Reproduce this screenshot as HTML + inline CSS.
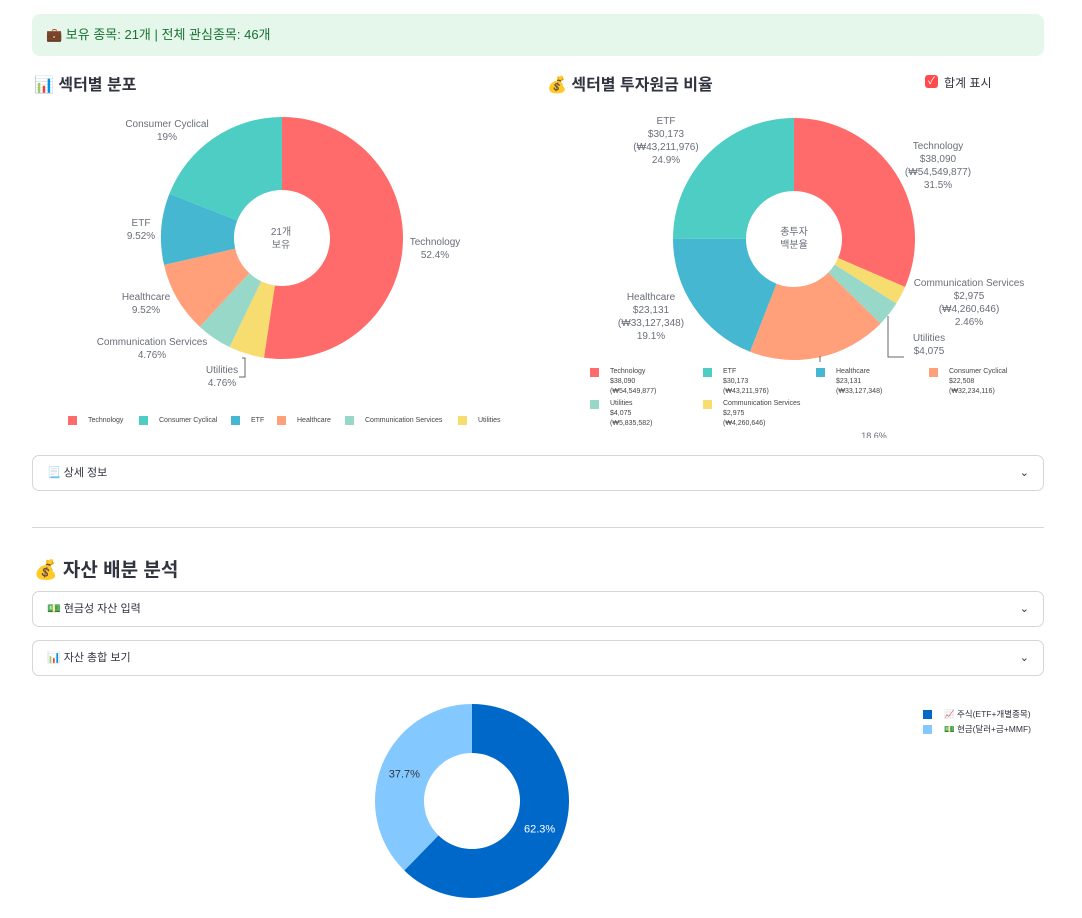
<!DOCTYPE html>
<html><head><meta charset="utf-8">
<style>
body{margin:0;width:1082px;height:918px;background:#fff;position:relative;overflow:hidden;font-family:"Liberation Sans","Noto Sans CJK KR",sans-serif;color:#31333f}
.abs{position:absolute}
.banner{left:32px;top:14px;width:1012px;height:42px;background:#e5f7ea;border-radius:8px;color:#177233;font-size:13px;line-height:42px;box-sizing:border-box;padding-left:14px}
.h3{font-weight:bold;font-size:16px}
.exp{left:32px;width:1012px;height:36px;border:1px solid #d6d6d9;border-radius:7px;box-sizing:border-box;font-size:11px;line-height:34px;padding-left:14px}
.exp .chev{position:absolute;right:14px;top:0;font-size:11px}
.lab{position:absolute;font-size:10px;color:#6b6e7a;text-align:center;line-height:13px;white-space:nowrap;transform:translateX(-50%)}
.leg{position:absolute;font-size:7px;color:#444;line-height:11px;white-space:nowrap}
.sw{position:absolute;width:9px;height:9px}
</style></head><body>
<div class="abs banner">💼 보유 종목: 21개 | 전체 관심종목: 46개</div>
<div class="abs h3" style="left:34px;top:71px">📊 섹터별 분포</div>
<div class="abs h3" style="left:547px;top:71px">💰 섹터별 투자원금 비율</div>
<div class="abs" style="left:925px;top:75px;width:13px;height:13px;background:#ff4b4b;border-radius:3px;color:#fff;font-size:10px;line-height:13px;text-align:center">✓</div>
<div class="abs" style="left:944px;top:74px;font-size:12px">합계 표시</div>

<svg id="chart" class="abs" style="left:0;top:0" width="1082" height="918"></svg>

<!-- left labels -->
<div class="lab" style="left:167px;top:118px">Consumer Cyclical<br>19%</div>
<div class="lab" style="left:141px;top:217px">ETF<br>9.52%</div>
<div class="lab" style="left:146px;top:291px">Healthcare<br>9.52%</div>
<div class="lab" style="left:152px;top:336px">Communication Services<br>4.76%</div>
<div class="lab" style="left:222px;top:364px">Utilities<br>4.76%</div>
<div class="lab" style="left:435px;top:236px">Technology<br>52.4%</div>
<div class="lab" style="left:281px;top:226px">21개<br>보유</div>
<!-- right labels -->
<div class="lab" style="left:666px;top:115px">ETF<br>$30,173<br>(₩43,211,976)<br>24.9%</div>
<div class="lab" style="left:938px;top:140px">Technology<br>$38,090<br>(₩54,549,877)<br>31.5%</div>
<div class="lab" style="left:969px;top:277px">Communication Services<br>$2,975<br>(₩4,260,646)<br>2.46%</div>
<div class="lab" style="left:929px;top:332px;height:26px;overflow:hidden">Utilities<br>$4,075</div>
<div class="lab" style="left:651px;top:291px">Healthcare<br>$23,131<br>(₩33,127,348)<br>19.1%</div>
<div class="lab" style="left:794px;top:226px">총투자<br>백분율</div>
<div class="lab" style="left:874px;top:430px;height:8px;overflow:hidden;font-size:9px">18.6%</div>
<div id="legends"></div>

<div class="abs exp" style="top:455px">📃 상세 정보<span class="chev">⌄</span></div>
<div class="abs" style="left:32px;top:527px;width:1012px;height:1px;background:#d6d6d9"></div>
<div class="abs" style="left:34px;top:555px;font-weight:bold;font-size:19px">💰 자산 배분 분석</div>
<div class="abs exp" style="top:591px">💵 현금성 자산 입력<span class="chev">⌄</span></div>
<div class="abs exp" style="top:640px">📊 자산 총합 보기<span class="chev">⌄</span></div>
<div class="abs" style="left:923px;top:710px;width:9px;height:9px;background:#0068c9"></div>
<div class="abs" style="left:944px;top:708px;font-size:8.5px">📈 주식(ETF+개별종목)</div>
<div class="abs" style="left:923px;top:725px;width:9px;height:9px;background:#83c9ff"></div>
<div class="abs" style="left:944px;top:723px;font-size:8.5px">💵 현금(달러+금+MMF)</div>

<script>
const leftCats=["Technology","Utilities","Communication Services","Healthcare","ETF","Consumer Cyclical"];
const leftVals=[11,1,1,2,2,4];
const leftColors=["#ff6b6b","#f7dc6f","#98d8c8","#ffa07a","#45b7d1","#4ecdc4"];
const rightCats=["Technology","Communication Services","Utilities","Consumer Cyclical","Healthcare","ETF"];
const rightVals=[38090,2975,4075,22508,23131,30173];
const rightColors=["#ff6b6b","#f7dc6f","#98d8c8","#ffa07a","#45b7d1","#4ecdc4"];
const assetCats=["주식","현금"];
const assetVals=[62.3,37.7];
const assetColors=["#0068c9","#83c9ff"];
const leftLegend=["Technology","Consumer Cyclical","ETF","Healthcare","Communication Services","Utilities"];
const leftLegendColors=["#ff6b6b","#4ecdc4","#45b7d1","#ffa07a","#98d8c8","#f7dc6f"];
const rightLegend=["Technology","ETF","Healthcare","Consumer Cyclical","Utilities","Communication Services"];
const rightLegendUsd=["$38,090","$30,173","$23,131","$22,508","$4,075","$2,975"];
const rightLegendKrw=["(₩54,549,877)","(₩43,211,976)","(₩33,127,348)","(₩32,234,116)","(₩5,835,582)","(₩4,260,646)"];
const rightLegendColors=["#ff6b6b","#4ecdc4","#45b7d1","#ffa07a","#98d8c8","#f7dc6f"];

const NS="http://www.w3.org/2000/svg";
const svg=document.getElementById('chart');
function pt(cx,cy,r,a){return [cx+r*Math.sin(a),cy-r*Math.cos(a)];}
function donut(cx,cy,ro,ri,vals,colors,name){
  const tot=vals.reduce((a,b)=>a+b,0);let a0=0;const mids=[];
  vals.forEach((v,i)=>{
    const a1=a0+v/tot*2*Math.PI;const lg=(a1-a0)>Math.PI?1:0;
    const p1=pt(cx,cy,ro,a0),p2=pt(cx,cy,ro,a1),p3=pt(cx,cy,ri,a1),p4=pt(cx,cy,ri,a0);
    const p=document.createElementNS(NS,'path');
    p.setAttribute('d',`M${p1}A${ro},${ro} 0 ${lg} 1 ${p2}L${p3}A${ri},${ri} 0 ${lg} 0 ${p4}Z`);
    p.setAttribute('fill',colors[i]);
    
    
    svg.appendChild(p);mids.push((a0+a1)/2);a0=a1;
  });
  return mids;
}
donut(282,238,121,48,leftVals,leftColors,'sector-count');
donut(794,239,121,48,rightVals,rightColors,'sector-investment');
const am=donut(472,801,97,48,assetVals,assetColors,'asset');
assetVals.forEach((v,i)=>{
  const [x,y]=pt(472,801,73,am[i]);
  const t=document.createElementNS(NS,'text');
  t.setAttribute('x',x);t.setAttribute('y',y+4);t.setAttribute('text-anchor','middle');
  t.setAttribute('font-size','11');t.setAttribute('fill',i==0?'#fff':'#31333f');
  t.textContent=v+'%';
  
  
  svg.appendChild(t);
});
// leader lines
[[246,367,240,367,240,357]].forEach(l=>{});
function line(d){const p=document.createElementNS(NS,'path');p.setAttribute('d',d);p.setAttribute('stroke','#666');p.setAttribute('fill','none');p.setAttribute('stroke-width','1');


svg.appendChild(p);}
line('M242,358L245,358L245,377L239,377');
line('M888,316L888,357L904,357');
line('M820,356L820,362');
const lg=document.getElementById('legends');
const lx=[68,139,231,277,345,458];
leftLegend.forEach((c,i)=>{
  const s=document.createElement('div');s.className='sw';s.style.left=lx[i]+'px';s.style.top='416px';s.style.background=leftLegendColors[i];
  
  
  lg.appendChild(s);
  const t=document.createElement('div');t.className='leg';t.style.left=(lx[i]+20)+'px';t.style.top='415px';t.textContent=c;
  
  
  lg.appendChild(t);
});
rightLegend.forEach((c,i)=>{
  const col=i%4,row=Math.floor(i/4);const x=590+col*113,y=368+row*32;
  const s=document.createElement('div');s.className='sw';s.style.left=x+'px';s.style.top=y+'px';s.style.background=rightLegendColors[i];
  
  
  lg.appendChild(s);
  const t=document.createElement('div');t.className='leg';t.style.left=(x+20)+'px';t.style.top=(y-1)+'px';t.style.lineHeight='10px';
  t.innerHTML=c+'<br>'+rightLegendUsd[i]+'<br>'+rightLegendKrw[i];
  
  
  lg.appendChild(t);
});
</script>
</body></html>
